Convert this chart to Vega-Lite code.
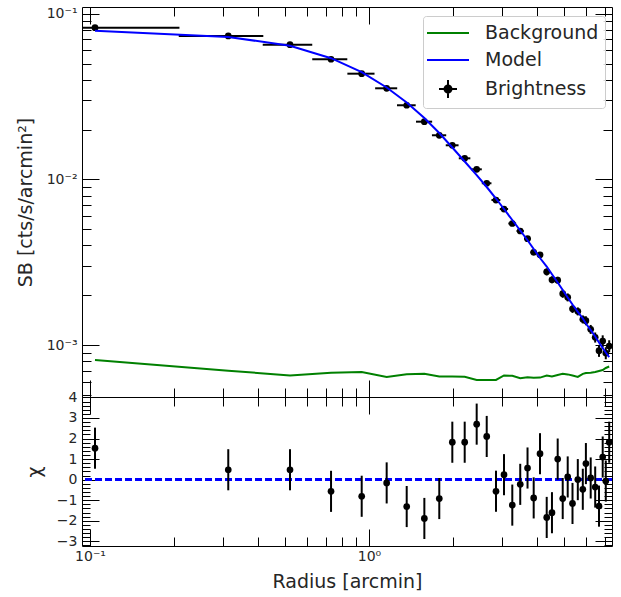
{
  "$schema": "https://vega.github.io/schema/vega-lite/v6.json",
  "padding": {"left": 15, "top": 6, "right": 9, "bottom": 0},
  "spacing": 0,
  "bounds": "flush",
  "config": {
    "font": "DejaVu Sans",
    "view": {"stroke": "#000000", "strokeWidth": 1},
    "axis": {"grid": false, "domain": false, "tickColor": "#000000", "tickWidth": 1,
      "labelFont": "DejaVu Sans", "labelFontSize": 14, "labelColor": "#262626",
      "titleFont": "DejaVu Sans", "titleFontSize": 19, "titleFontWeight": "normal", "titleColor": "#262626",
      "labelOverlap": false, "labelFlush": false, "minExtent": 0}
  },
  "resolve": {"scale": {"color": "independent"}, "legend": {"color": "independent"}},
  "data": {"values": [
    {"r":0.1042,"r_lo":0.0001,"r_hi":0.2092,"sb":0.0823,"sb_lo":0.0800,"sb_hi":0.0846,"Model":0.0789,"Background":0.000815,"chi":1.53,"chi_lo":0.53,"chi_hi":2.53},
    {"r":0.313,"r_lo":0.208,"r_hi":0.418,"sb":0.0734,"sb_lo":0.07136,"sb_hi":0.07544,"Model":0.0724,"Background":0.000703,"chi":0.48,"chi_lo":-0.52,"chi_hi":1.48},
    {"r":0.521,"r_lo":0.416,"r_hi":0.626,"sb":0.065,"sb_lo":0.06319,"sb_hi":0.06681,"Model":0.0641,"Background":0.000658,"chi":0.48,"chi_lo":-0.52,"chi_hi":1.48},
    {"r":0.731,"r_lo":0.626,"r_hi":0.836,"sb":0.0531,"sb_lo":0.05162,"sb_hi":0.05458,"Model":0.0539,"Background":0.000684,"chi":-0.57,"chi_lo":-1.57,"chi_hi":0.43},
    {"r":0.9415,"r_lo":0.8365,"r_hi":1.0465,"sb":0.04346,"sb_lo":0.04225,"sb_hi":0.04467,"Model":0.04444,"Background":0.00069,"chi":-0.81,"chi_lo":-1.81,"chi_hi":0.19},
    {"r":1.157,"r_lo":1.052,"r_hi":1.262,"sb":0.03548,"sb_lo":0.03449,"sb_hi":0.03647,"Model":0.03588,"Background":0.000644,"chi":-0.16,"chi_lo":-1.16,"chi_hi":0.84},
    {"r":1.365,"r_lo":1.26,"r_hi":1.47,"sb":0.02803,"sb_lo":0.02725,"sb_hi":0.02881,"Model":0.02913,"Background":0.00067,"chi":-1.31,"chi_lo":-2.31,"chi_hi":-0.31},
    {"r":1.579,"r_lo":1.474,"r_hi":1.684,"sb":0.02232,"sb_lo":0.0217,"sb_hi":0.02294,"Model":0.02349,"Background":0.000673,"chi":-1.89,"chi_lo":-2.89,"chi_hi":-0.89},
    {"r":1.786,"r_lo":1.681,"r_hi":1.891,"sb":0.01848,"sb_lo":0.01797,"sb_hi":0.01899,"Model":0.01907,"Background":0.000648,"chi":-0.92,"chi_lo":-1.92,"chi_hi":0.08},
    {"r":1.989,"r_lo":1.884,"r_hi":2.094,"sb":0.01608,"sb_lo":0.01552,"sb_hi":0.01664,"Model":0.0156,"Background":0.000648,"chi":1.82,"chi_lo":0.82,"chi_hi":2.82},
    {"r":2.203,"r_lo":2.098,"r_hi":2.308,"sb":0.01342,"sb_lo":0.01295,"sb_hi":0.01389,"Model":0.01284,"Background":0.000646,"chi":1.82,"chi_lo":0.82,"chi_hi":2.82},
    {"r":2.432,"r_lo":2.327,"r_hi":2.537,"sb":0.01152,"sb_lo":0.01112,"sb_hi":0.01192,"Model":0.01064,"Background":0.000618,"chi":2.7,"chi_lo":1.7,"chi_hi":3.7},
    {"r":2.642,"r_lo":2.537,"r_hi":2.747,"sb":0.00949,"sb_lo":0.00916,"sb_hi":0.00982,"Model":0.00901,"Background":0.000618,"chi":2.1,"chi_lo":1.1,"chi_hi":3.1},
    {"r":2.852,"r_lo":2.747,"r_hi":2.957,"sb":0.00752,"sb_lo":0.00726,"sb_hi":0.00778,"Model":0.00768,"Background":0.000618,"chi":-0.565,"chi_lo":-1.565,"chi_hi":0.435},
    {"r":3.047,"r_lo":2.942,"r_hi":3.152,"sb":0.006637,"sb_lo":0.006407,"sb_hi":0.006867,"Model":0.00664,"Background":0.000658,"chi":0.24,"chi_lo":-0.76,"chi_hi":1.24},
    {"r":3.263,"r_lo":3.158,"r_hi":3.368,"sb":0.005428,"sb_lo":0.00524,"sb_hi":0.005616,"Model":0.005697,"Background":0.000655,"chi":-1.24,"chi_lo":-2.24,"chi_hi":-0.24},
    {"r":3.484,"r_lo":3.379,"r_hi":3.589,"sb":0.004891,"sb_lo":0.004721,"sb_hi":0.005061,"Model":0.004925,"Background":0.000633,"chi":-0.23,"chi_lo":-1.23,"chi_hi":0.77},
    {"r":3.7,"r_lo":3.595,"r_hi":3.805,"sb":0.004394,"sb_lo":0.004242,"sb_hi":0.004546,"Model":0.004302,"Background":0.000642,"chi":0.565,"chi_lo":-0.435,"chi_hi":1.565},
    {"r":3.893,"r_lo":3.788,"r_hi":3.998,"sb":0.003638,"sb_lo":0.003512,"sb_hi":0.003764,"Model":0.003808,"Background":0.000637,"chi":-0.89,"chi_lo":-1.89,"chi_hi":0.11},
    {"r":4.102,"r_lo":3.997,"r_hi":4.207,"sb":0.003518,"sb_lo":0.003396,"sb_hi":0.00364,"Model":0.003361,"Background":0.000639,"chi":1.26,"chi_lo":0.26,"chi_hi":2.26},
    {"r":4.335,"r_lo":4.23,"r_hi":4.44,"sb":0.002775,"sb_lo":0.00264,"sb_hi":0.00291,"Model":0.002987,"Background":0.000658,"chi":-1.84,"chi_lo":-2.84,"chi_hi":-0.84},
    {"r":4.527,"r_lo":4.422,"r_hi":4.632,"sb":0.002486,"sb_lo":0.002365,"sb_hi":0.002607,"Model":0.002685,"Background":0.000648,"chi":-1.61,"chi_lo":-2.61,"chi_hi":-0.61},
    {"r":4.746,"r_lo":4.641,"r_hi":4.851,"sb":0.00247,"sb_lo":0.00235,"sb_hi":0.00259,"Model":0.002392,"Background":0.000662,"chi":1.0,"chi_lo":0.0,"chi_hi":2.0},
    {"r":4.947,"r_lo":4.842,"r_hi":5.052,"sb":0.002048,"sb_lo":0.001934,"sb_hi":0.002162,"Model":0.002156,"Background":0.000673,"chi":-0.92,"chi_lo":-1.92,"chi_hi":0.08},
    {"r":5.155,"r_lo":5.05,"r_hi":5.26,"sb":0.001948,"sb_lo":0.00184,"sb_hi":0.002056,"Model":0.001942,"Background":0.000668,"chi":0.13,"chi_lo":-0.87,"chi_hi":1.13},
    {"r":5.363,"r_lo":5.258,"r_hi":5.468,"sb":0.00166,"sb_lo":0.001568,"sb_hi":0.001752,"Model":0.001762,"Background":0.000658,"chi":-1.16,"chi_lo":-2.16,"chi_hi":-0.16},
    {"r":5.603,"r_lo":5.498,"r_hi":5.708,"sb":0.001604,"sb_lo":0.001515,"sb_hi":0.001693,"Model":0.001592,"Background":0.000645,"chi":0.0,"chi_lo":-1.0,"chi_hi":1.0},
    {"r":5.839,"r_lo":5.734,"r_hi":5.944,"sb":0.001435,"sb_lo":0.001355,"sb_hi":0.001515,"Model":0.001451,"Background":0.000673,"chi":-0.47,"chi_lo":-1.47,"chi_hi":0.53},
    {"r":5.99,"r_lo":5.885,"r_hi":6.095,"sb":0.001409,"sb_lo":0.001321,"sb_hi":0.001497,"Model":0.001353,"Background":0.000681,"chi":0.78,"chi_lo":-0.22,"chi_hi":1.78},
    {"r":6.232,"r_lo":6.127,"r_hi":6.337,"sb":0.001249,"sb_lo":0.001171,"sb_hi":0.001327,"Model":0.001237,"Background":0.000684,"chi":0.08,"chi_lo":-0.92,"chi_hi":1.08},
    {"r":6.468,"r_lo":6.363,"r_hi":6.573,"sb":0.001117,"sb_lo":0.001039,"sb_hi":0.001195,"Model":0.00113,"Background":0.00069,"chi":-0.36,"chi_lo":-1.36,"chi_hi":0.64},
    {"r":6.675,"r_lo":6.57,"r_hi":6.78,"sb":0.000929,"sb_lo":0.000852,"sb_hi":0.001006,"Model":0.001039,"Background":0.0007,"chi":-1.29,"chi_lo":-2.29,"chi_hi":-0.29},
    {"r":6.881,"r_lo":6.776,"r_hi":6.986,"sb":0.001061,"sb_lo":0.000973,"sb_hi":0.001149,"Model":0.000963,"Background":0.00071,"chi":1.1,"chi_lo":0.1,"chi_hi":2.1},
    {"r":7.059,"r_lo":6.954,"r_hi":7.164,"sb":0.000899,"sb_lo":0.000824,"sb_hi":0.000974,"Model":0.000905,"Background":0.00073,"chi":-0.07,"chi_lo":-1.07,"chi_hi":0.93},
    {"r":7.26,"r_lo":7.155,"r_hi":7.365,"sb":0.00099,"sb_lo":0.000908,"sb_hi":0.001073,"Model":0.00085,"Background":0.000745,"chi":1.82,"chi_lo":0.82,"chi_hi":2.82}
  ]},
  "vconcat": [
    {
      "width": 530,
      "height": 390,
      "resolve": {"axis": {"x": "independent", "y": "independent"}},
      "layer": [
        {
          "mark": {"type": "rule", "color": "#000000", "strokeWidth": 2, "clip": true},
          "encoding": {
            "x": {"field": "r_lo", "type": "quantitative",
              "scale": {"type": "log", "domain": [0.0936, 7.43], "nice": false},
              "axis": {"orient": "bottom", "title": null, "labels": false, "minExtent": 0, "maxExtent": 0,
                "values": [0.1,0.2,0.3,0.4,0.5,0.6,0.7,0.8,0.9,1,2,3,4,5,6,7],
                "tickSize": {"condition": {"test": "datum.value == 0.1 || datum.value == 1", "value": -17}, "value": -9}}},
            "x2": {"field": "r_hi"},
            "y": {"field": "sb", "type": "quantitative",
              "scale": {"type": "log", "domain": [0.000488, 0.1097], "nice": false},
              "axis": {"orient": "left", "title": "SB [cts/s/arcmin²]", "titlePadding": 11,
                "values": [0.0005,0.0006,0.0007,0.0008,0.0009,0.001,0.002,0.003,0.004,0.005,0.006,0.007,0.008,0.009,0.01,0.02,0.03,0.04,0.05,0.06,0.07,0.08,0.09,0.1],
                "labelExpr": "datum.value == 0.1 ? '10⁻¹' : datum.value == 0.01 ? '10⁻²' : datum.value == 0.001 ? '10⁻³' : ''",
                "labelPadding": 22,
                "tickSize": {"condition": {"test": "datum.value == 0.1 || datum.value == 0.01 || datum.value == 0.001", "value": -17}, "value": -9}}}
          }
        },
        {
          "mark": {"type": "rule", "color": "#000000", "strokeWidth": 2, "clip": true},
          "encoding": {
            "x": {"field": "r", "type": "quantitative",
              "axis": {"orient": "top", "title": null, "labels": false, "minExtent": 0, "maxExtent": 0,
                "values": [0.1,0.2,0.3,0.4,0.5,0.6,0.7,0.8,0.9,1,2,3,4,5,6,7],
                "tickSize": {"condition": {"test": "datum.value == 0.1 || datum.value == 1", "value": -17}, "value": -9}}},
            "y": {"field": "sb_lo", "type": "quantitative",
              "axis": {"orient": "right", "title": null, "labels": false, "minExtent": 0, "maxExtent": 0,
                "values": [0.0005,0.0006,0.0007,0.0008,0.0009,0.001,0.002,0.003,0.004,0.005,0.006,0.007,0.008,0.009,0.01,0.02,0.03,0.04,0.05,0.06,0.07,0.08,0.09,0.1],
                "tickSize": {"condition": {"test": "datum.value == 0.1 || datum.value == 0.01 || datum.value == 0.001", "value": -17}, "value": -9}}},
            "y2": {"field": "sb_hi"}
          }
        },
        {
          "mark": {"type": "point", "filled": true, "opacity": 1, "size": 45, "clip": true},
          "encoding": {
            "x": {"field": "r", "type": "quantitative", "axis": null},
            "y": {"field": "sb", "type": "quantitative", "axis": null},
            "color": {"datum": "Brightness"}
          }
        },
        {
          "transform": [{"fold": ["Background", "Model"], "as": ["series", "value"]}],
          "mark": {"type": "line", "strokeWidth": 2, "clip": true},
          "encoding": {
            "x": {"field": "r", "type": "quantitative", "axis": null},
            "y": {"field": "value", "type": "quantitative", "axis": null},
            "color": {"field": "series", "type": "nominal",
              "scale": {"domain": ["Background", "Model", "Brightness"], "range": ["#008000", "#0000ff", "#000000"]},
              "legend": {"orient": "none", "legendX": 341, "legendY": 9, "title": null,
                "labelFont": "DejaVu Sans", "labelFontSize": 19, "labelColor": "#262626",
                "fillColor": "rgba(255,255,255,0.85)", "strokeColor": "#cccccc", "cornerRadius": 3,
                "padding": 6, "rowPadding": 6, "symbolSize": 400, "symbolStrokeWidth": 2,
                "symbolOffset": 8, "labelOffset": 26,
                "encode": {"symbols": {"update": {
                  "shape": {"signal": "datum.value === 'Brightness' ? 'M-0.9,0H0.9M0,-0.9V0.9M0.35,0A0.35,0.35 0 1,1 -0.35,0A0.35,0.35 0 1,1 0.35,0Z' : 'M-2.1,0H2.1'"},
                  "stroke": {"signal": "datum.value === 'Background' ? '#008000' : datum.value === 'Model' ? '#0000ff' : '#000000'"},
                  "fill": {"signal": "datum.value === 'Brightness' ? '#000000' : 'transparent'"},
                  "strokeWidth": {"value": 2},
                  "opacity": {"value": 1}
                }}}}
            },
            "order": {"field": "r"}
          }
        }
      ]
    },
    {
      "width": 530,
      "height": 149,
      "resolve": {"axis": {"x": "independent", "y": "independent"}},
      "layer": [
        {
          "mark": {"type": "rule", "color": "#0000ff", "strokeWidth": 1.5, "strokeDash": [7, 3]},
          "encoding": {
            "y": {"datum": 0, "type": "quantitative",
              "scale": {"domain": [-3.23, 4.02], "nice": false, "zero": false},
              "axis": {"orient": "right", "title": null, "labels": false, "minExtent": 0, "maxExtent": 0,
                "values": [-3.2,-3,-2.8,-2.6,-2.4,-2.2,-2,-1.8,-1.6,-1.4,-1.2,-1,-0.8,-0.6,-0.4,-0.2,0,0.2,0.4,0.6,0.8,1,1.2,1.4,1.6,1.8,2,2.2,2.4,2.6,2.8,3,3.2,3.4,3.6,3.8,4],
                "tickSize": {"condition": {"test": "abs(datum.value - round(datum.value)) < 0.001", "value": -17}, "value": -8}}}
          }
        },
        {
          "mark": {"type": "rule", "color": "#000000", "strokeWidth": 2},
          "encoding": {
            "x": {"field": "r", "type": "quantitative",
              "scale": {"type": "log", "domain": [0.0936, 7.43], "nice": false},
              "axis": {"orient": "top", "title": null, "labels": false, "minExtent": 0, "maxExtent": 0,
                "values": [0.1,0.2,0.3,0.4,0.5,0.6,0.7,0.8,0.9,1,2,3,4,5,6,7],
                "tickSize": {"condition": {"test": "datum.value == 0.1 || datum.value == 1", "value": -17}, "value": -9}}},
            "y": {"field": "chi_lo", "type": "quantitative", "axis": null},
            "y2": {"field": "chi_hi"}
          }
        },
        {
          "mark": {"type": "point", "filled": true, "opacity": 1, "size": 45, "color": "#000000"},
          "encoding": {
            "x": {"field": "r", "type": "quantitative",
              "axis": {"orient": "bottom", "title": "Radius [arcmin]", "titlePadding": 1,
                "values": [0.1,0.2,0.3,0.4,0.5,0.6,0.7,0.8,0.9,1,2,3,4,5,6,7],
                "labelExpr": "datum.value == 0.1 ? '10⁻¹' : datum.value == 1 ? '10⁰' : ''",
                "labelPadding": 20,
                "tickSize": {"condition": {"test": "datum.value == 0.1 || datum.value == 1", "value": -17}, "value": -9}}},
            "y": {"field": "chi", "type": "quantitative",
              "axis": {"orient": "left", "title": "χ", "titlePadding": 12,
                "values": [-3.2,-3,-2.8,-2.6,-2.4,-2.2,-2,-1.8,-1.6,-1.4,-1.2,-1,-0.8,-0.6,-0.4,-0.2,0,0.2,0.4,0.6,0.8,1,1.2,1.4,1.6,1.8,2,2.2,2.4,2.6,2.8,3,3.2,3.4,3.6,3.8,4],
                "labelExpr": "abs(datum.value - round(datum.value)) < 0.001 ? replace(format(datum.value, 'd'), '-', '−') : ''",
                "labelPadding": 22,
                "tickSize": {"condition": {"test": "abs(datum.value - round(datum.value)) < 0.001", "value": -17}, "value": -8}}}
          }
        }
      ]
    }
  ]
}
